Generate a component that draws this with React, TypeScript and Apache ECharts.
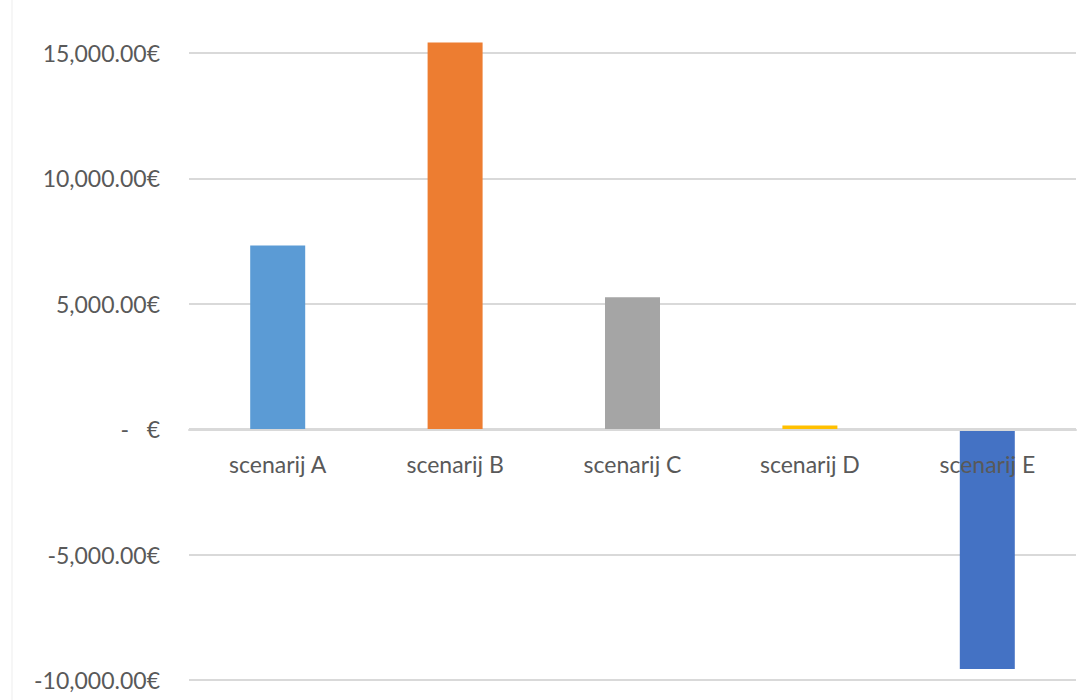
import React, { useEffect, useRef } from "react";
import * as echarts from "echarts";

const categories = ["scenarij A", "scenarij B", "scenarij C", "scenarij D", "scenarij E"];
const values = [7320, 15420, 5260, 150, -9560];
const colors = ["#5B9BD5", "#ED7D31", "#A5A5A5", "#FFC000", "#4472C4"];
const yMin = -10000;
const yMax = 15000;
const yStep = 5000;

function fmt(v: number): string {
  if (v === 0) return "-   €";
  const s = Math.abs(v).toLocaleString("en-US", { minimumFractionDigits: 2, maximumFractionDigits: 2 });
  return (v < 0 ? "-" : "") + s + "€";
}

export default function App() {
  const ref = useRef<HTMLDivElement>(null);
  useEffect(() => {
    if (!ref.current) return;
    const chart = echarts.init(ref.current, undefined, { renderer: "svg" });
    chart.setOption({
      animation: false,
      backgroundColor: "#ffffff",
      graphic: [
        {
          type: "rect",
          shape: { x: 12, y: -2, width: 1200, height: 720 },
          style: { fill: "none", stroke: "#EDEDED", lineWidth: 1 },
          silent: true,
        },
      ],
      grid: { left: 189, right: 16, top: 53, bottom: 20, containLabel: false, outerBoundsMode: "none" },
      xAxis: {
        type: "category",
        data: categories,
        offset: -250,
        axisLine: { onZero: false, lineStyle: { color: "#D9D9D9", width: 2 } },
        axisTick: { show: false },
        axisLabel: {
          margin: 22,
          color: "#595959",
          fontSize: 23,
          fontFamily: "Lato, 'Open Sans', sans-serif",
        },
        z: 5,
      },
      yAxis: {
        type: "value",
        min: yMin,
        max: yMax,
        interval: yStep,
        axisLine: { show: false },
        axisTick: { show: false },
        splitLine: { lineStyle: { color: "#D9D9D9", width: 2 } },
        axisLabel: {
          margin: 29,
          color: "#595959",
          fontSize: 23,
          fontFamily: "Lato, 'Open Sans', sans-serif",
          formatter: (v: number) => fmt(v),
        },
      },
      series: [
        {
          type: "bar",
          clip: false,
          barWidth: 55,
          z: 3,
          data: values.map((v, i) => ({ value: v, itemStyle: { color: colors[i] } })),
        },
      ],
    });
    return () => chart.dispose();
  }, []);
  return (
    <div
      ref={ref}
      style={{ position: "absolute", left: 0, top: 0, width: 1092, height: 700 }}
    />
  );
}
